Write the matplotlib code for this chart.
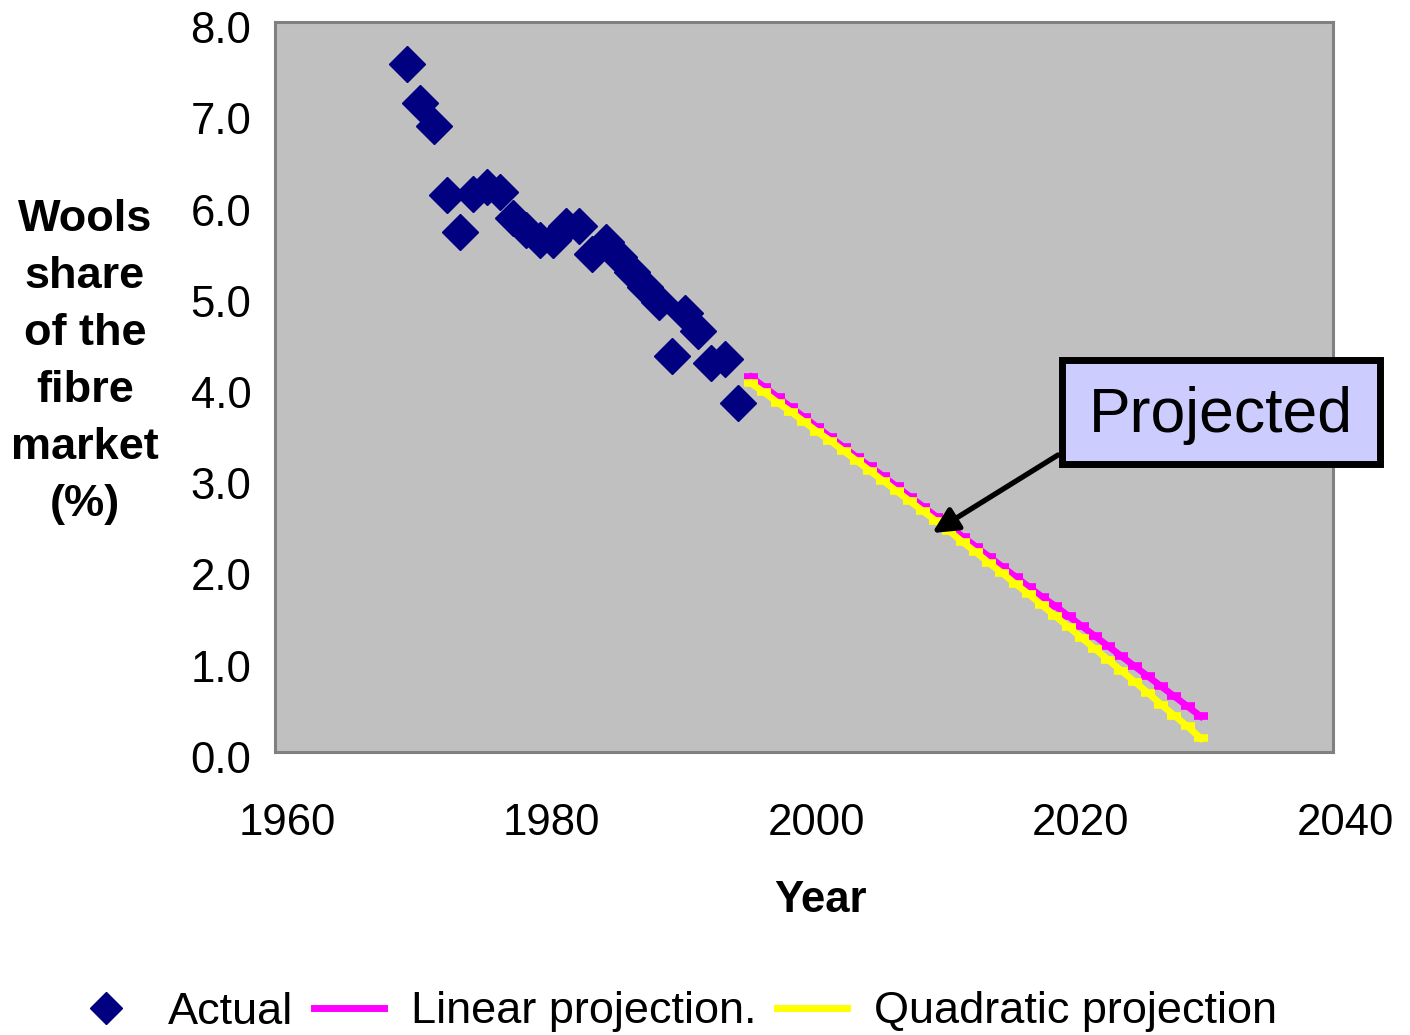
import matplotlib.pyplot as plt
from matplotlib.patches import Rectangle
from matplotlib.transforms import ScaledTranslation
from matplotlib.lines import Line2D

plt.rcParams['font.family'] = ['Liberation Sans', 'DejaVu Sans']

# wool share of the fibre market
actual_years = list(range(1970, 1996))
actual_share = [7.54, 7.11, 6.86, 6.10, 5.70, 6.12, 6.19, 6.14, 5.85, 5.72,
                5.61, 5.61, 5.76, 5.76, 5.46, 5.59, 5.43, 5.26, 5.10, 4.93,
                4.34, 4.81, 4.61, 4.26, 4.31, 3.83]

proj_years = list(range(1996, 2031))
linear_share = [4.11, 4.00, 3.89, 3.78, 3.67, 3.56, 3.45, 3.34, 3.23, 3.13,
                3.02, 2.91, 2.80, 2.69, 2.58, 2.47, 2.36, 2.25, 2.14, 2.03,
                1.92, 1.81, 1.70, 1.60, 1.49, 1.38, 1.27, 1.16, 1.05, 0.94,
                0.83, 0.72, 0.61, 0.50, 0.39]
quad_share = [4.04, 3.94, 3.83, 3.73, 3.62, 3.51, 3.41, 3.30, 3.19, 3.08,
              2.97, 2.86, 2.75, 2.64, 2.53, 2.42, 2.30, 2.19, 2.07, 1.96,
              1.84, 1.73, 1.61, 1.49, 1.37, 1.25, 1.13, 1.01, 0.89, 0.77,
              0.65, 0.52, 0.40, 0.28, 0.15]

x_ticks = [1960, 1980, 2000, 2020, 2040]
y_ticks = [0, 1, 2, 3, 4, 5, 6, 7, 8]

navy = '#000080'
magenta = '#FF00FF'
yellow = '#FFFF00'

W, H = 1410, 1035
fig = plt.figure(figsize=(W / 100, H / 100), dpi=100)
ax = fig.add_axes([275 / W, 1 - 752 / H, (1333 - 275) / W, (752 - 22) / H])
ax.set_facecolor('#C0C0C0')

ax.plot(actual_years, actual_share, linestyle='none', marker='D', ms=18.5,
        color=navy, mec=navy, mew=1, zorder=3)
ax.plot(proj_years, linear_share, color=magenta, lw=4.8, marker='_', ms=10,
        mew=5.5, zorder=2)
ax.plot(proj_years, quad_share, color=yellow, lw=4.8, marker='_', ms=10,
        mew=5.5, zorder=2)

ax.set_xlim(1960, 2040)
ax.set_ylim(0, 8)
ax.set_xticks(x_ticks)
ax.set_yticks(y_ticks)
ax.set_yticklabels(['%.1f' % v for v in y_ticks])
ax.tick_params(length=0, labelsize=31.5)
ax.tick_params(axis='y', pad=17)
ax.tick_params(axis='x', pad=37)
for lab in ax.get_xticklabels():
    lab.set_transform(lab.get_transform() + ScaledTranslation(0.12, 0, fig.dpi_scale_trans))
for lab in ax.get_yticklabels():
    lab.set_transform(lab.get_transform() + ScaledTranslation(0, -0.05, fig.dpi_scale_trans))
for s in ax.spines.values():
    s.set_color('#808080')
    s.set_linewidth(2.2)

# axis titles
fig.text(85 / W, 1 - 362 / H, 'Wools\nshare\nof the\nfibre\nmarket\n(%)',
         ha='center', va='center', fontsize=32.5, fontweight='bold',
         linespacing=1.5)
fig.text(820 / W, 1 - 900 / H, 'Year', ha='center', va='center',
         fontsize=31.5, fontweight='bold')

# "Projected" call-out
box = Rectangle((1061.5 / W, 1 - 464 / H), 318.5 / W, 104.5 / H,
                transform=fig.transFigure, facecolor='#CCCCFF',
                edgecolor='black', lw=5, zorder=5)
fig.add_artist(box)
fig.text(1221 / W, 1 - 431.7 / H, 'Projected', ha='center', va='baseline',
         fontsize=45, zorder=6)
ax.annotate('', xy=(2009.7, 2.40), xytext=(1058, H - 455),
            textcoords='figure pixels',
            arrowprops=dict(arrowstyle='-|>', color='black', lw=3.8,
                            mutation_scale=38, shrinkA=0, shrinkB=0),
            annotation_clip=False, zorder=4)

handles = [
    Line2D([], [], linestyle='none', marker='D', ms=16, color=navy),
    Line2D([], [], color=magenta, lw=5),
    Line2D([], [], color=yellow, lw=5),
]
labels = ['Actual', 'Linear projection.', 'Quadratic projection']
fig.legend(handles, labels, loc='center', bbox_to_anchor=(674 / W, 1 - 1012 / H),
           ncol=3, frameon=False, fontsize=32.5, handlelength=1.55,
           handletextpad=0.6, columnspacing=0.45, borderaxespad=0,
           borderpad=0)

fig.savefig('out.png', dpi=100)
